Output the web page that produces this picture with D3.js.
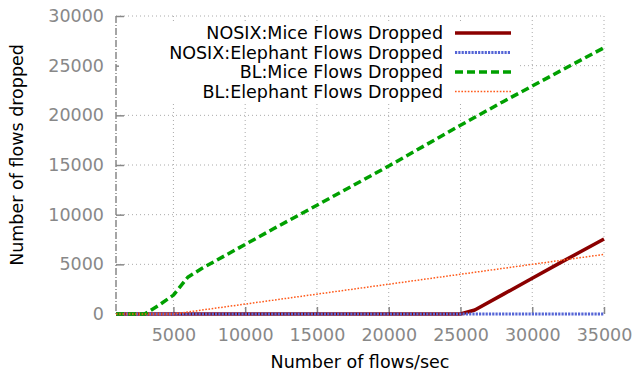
<!DOCTYPE html>
<html>
<head>
<meta charset="utf-8">
<script src="https://cdn.jsdelivr.net/npm/d3@7"></script>
<style>
  body { margin: 0; background: #fff; }
  text { font-family: "DejaVu Sans", sans-serif; }
</style>
</head>
<body>
<svg id="chart" width="635" height="372"></svg>
<script>
// flows/sec sampled
const flowRates = [1000, 2000, 3000, 4000, 5000, 6000, 7000, 8000, 10000, 12000, 15000, 20000, 25000, 26000, 28000, 30000, 32000, 35000]
const nosixMice     = [0, 0, 0, 0, 0, 0, 0, 0, 0, 0, 0, 0, 0, 400, 2000, 3600, 5200, 7550]
const nosixElephant = [0, 0, 0, 0, 0, 0, 0, 0, 0, 0, 0, 0, 0, 0, 0, 0, 0, 0]
const blMice        = [0, 0, 0, 900, 1900, 3700, 4600, 5400, 7000, 8600, 10950, 14900, 19000, 19800, 21400, 22950, 24500, 26800]
const blElephant    = [0, 0, 0, 0, 0, 200, 400, 600, 1000, 1400, 2000, 3000, 4000, 4200, 4600, 5000, 5400, 6000]
const seriesNames = ["NOSIX:Mice Flows Dropped", "NOSIX:Elephant Flows Dropped", "BL:Mice Flows Dropped", "BL:Elephant Flows Dropped"]
const xTicks = [5000, 10000, 15000, 20000, 25000, 30000, 35000]
const yTicks = [0, 5000, 10000, 15000, 20000, 25000, 30000]

const svg = d3.select("#chart")
const plotL = 116, plotR = 604, plotT = 16, plotB = 314
const fontSize = "17.5px"

const x = d3.scaleLinear().domain([1000, 35000]).range([plotL, plotR])
const y = d3.scaleLinear().domain([0, 30000]).range([plotB, plotT])

const tickGrey = "#888"

// grid
const grid = svg.append("g")
grid.selectAll(".gx").data(xTicks).join("line")
    .attr("class", "gx")
    .attr("x1", d => x(d)).attr("x2", d => x(d))
    .attr("y1", plotT).attr("y2", plotB)
grid.selectAll(".gy").data(yTicks.filter(d => d > 0)).join("line")
    .attr("class", "gy")
    .attr("x1", plotL).attr("x2", plotR)
    .attr("y1", d => y(d)).attr("y2", d => y(d))
grid.selectAll("line")
    .attr("stroke", "#aaa")
    .attr("stroke-width", 1)
    .attr("stroke-dasharray", "1,3")

// left border, dash-dot like gnuplot
svg.append("line")
    .attr("x1", plotL).attr("x2", plotL)
    .attr("y1", plotT).attr("y2", plotB)
    .attr("stroke", tickGrey)
    .attr("stroke-width", 1.5)
    .attr("stroke-dasharray", "7,2,1,2")

// axes
const yAxis = svg.append("g")
    .attr("transform", `translate(${plotL},0)`)
    .call(d3.axisLeft(y).tickValues(yTicks).tickSize(-8).tickPadding(12).tickFormat(d3.format("d")))
const xAxis = svg.append("g")
    .attr("transform", `translate(0,${plotB})`)
    .call(d3.axisBottom(x).tickValues(xTicks).tickSize(-7).tickPadding(15).tickFormat(d3.format("d")))
for (const ax of [xAxis, yAxis]) {
    ax.select(".domain").remove()
    ax.selectAll(".tick line").attr("stroke", tickGrey).attr("stroke-width", 1.5)
    ax.selectAll(".tick text").attr("fill", tickGrey).style("font-size", fontSize)
}

// axis titles
svg.append("text")
    .attr("x", 360).attr("y", 368)
    .attr("text-anchor", "middle")
    .style("font-size", fontSize)
    .text("Number of flows/sec")
svg.append("text")
    .attr("transform", "translate(23,155) rotate(-90)")
    .attr("text-anchor", "middle")
    .style("font-size", fontSize)
    .text("Number of flows dropped")

// legend box hides the grid behind it
svg.append("rect")
    .attr("x", 119).attr("y", 23)
    .attr("width", 401).attr("height", 80)
    .attr("fill", "#fff")

const styles = [
    { color: "#8b0000", width: 3.5, dash: null },
    { color: "#5565d6", width: 3, dash: "2.2,1.1" },
    { color: "#00a000", width: 3.5, dash: "8,4" },
    { color: "#ff5a1a", width: 1.5, dash: "1.6,1.6" }
]
const allSeries = [nosixMice, nosixElephant, blMice, blElephant]

const line = d3.line()
    .x(d => x(d[0]))
    .y(d => y(d[1]))

svg.append("g").selectAll("path")
    .data(allSeries)
    .join("path")
    .attr("d", vals => line(flowRates.map((r, i) => [r, vals[i]])))
    .attr("fill", "none")
    .attr("stroke", (d, i) => styles[i].color)
    .attr("stroke-width", (d, i) => styles[i].width)
    .attr("stroke-dasharray", (d, i) => styles[i].dash)
    .attr("stroke-linejoin", "round")

// legend
const legendY = d3.scalePoint().domain(seriesNames).range([33, 91.5])
const legend = svg.append("g").selectAll("g")
    .data(seriesNames)
    .join("g")
    .attr("transform", d => `translate(0,${legendY(d)})`)
legend.append("text")
    .attr("x", 443)
    .attr("dy", "0.35em")
    .attr("text-anchor", "end")
    .style("font-size", fontSize)
    .text(d => d)
legend.append("line")
    .attr("x1", 455).attr("x2", 511)
    .attr("stroke", (d, i) => styles[i].color)
    .attr("stroke-width", (d, i) => styles[i].width)
    .attr("stroke-dasharray", (d, i) => styles[i].dash)
</script>
</body>
</html>
